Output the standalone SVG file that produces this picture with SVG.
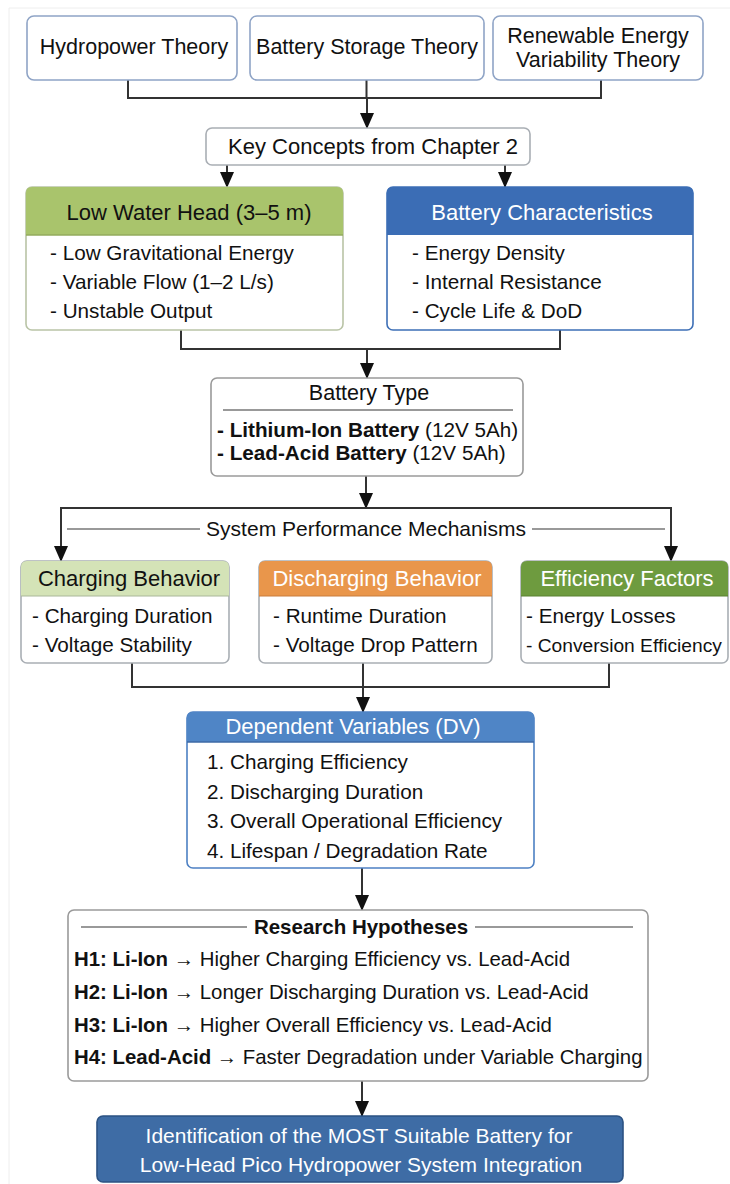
<svg xmlns="http://www.w3.org/2000/svg" width="730" height="1184" viewBox="0 0 730 1184">
<defs>
<marker id="arr" viewBox="0 0 16 14" markerWidth="16" markerHeight="14" refX="15" refY="7" orient="auto" markerUnits="userSpaceOnUse">
<path d="M0,0 L16,7 L0,14 Z" fill="#111"/>
</marker>
<style>
text{font-family:"Liberation Sans",Arial,sans-serif;fill:#111;}
.t{font-size:21px;}
.tt{font-size:21.5px;}
.h{font-size:22px;}
.b{font-size:20.7px;}
.hy{font-size:20.4px;}
.c{text-anchor:middle;}
.w{fill:#fff;}
.bold{font-weight:bold;}
.box{fill:#fff;stroke-width:1.6;}
.plain{stroke:#a9aeb4;}
.blueish{stroke:#8fa4c6;}
.conn{fill:none;stroke:#333;stroke-width:2;}
.sep{stroke:#999;stroke-width:2;}
</style>
</defs>
<rect x="0" y="0" width="730" height="1184" fill="#fff"/>
<path d="M9,1184 V8 H730" fill="none" stroke="#eeeeee" stroke-width="1"/>

<g id="connectors">
<path class="conn" d="M128,80 V98 H601 V80 M366.5,80 V98"/>
<path class="conn" d="M367,98 V128" marker-end="url(#arr)"/>
<path class="conn" d="M227,165 V187" marker-end="url(#arr)"/>
<path class="conn" d="M505,165 V187" marker-end="url(#arr)"/>
<path class="conn" d="M181,330 V349 H560 V330"/>
<path class="conn" d="M367,349 V378" marker-end="url(#arr)"/>
<path class="conn" d="M366,476 V508" marker-end="url(#arr)"/>
<path class="conn" d="M61,561 V508 H671 V561"/>
<path class="conn" d="M61,530 V561" marker-end="url(#arr)"/>
<path class="conn" d="M671,530 V561" marker-end="url(#arr)"/>
<path class="conn" d="M132,663 V687 H609 V663 M363,663 V687"/>
<path class="conn" d="M363,687 V712" marker-end="url(#arr)"/>
<path class="conn" d="M362,868 V910" marker-end="url(#arr)"/>
<path class="conn" d="M362,1081 V1116" marker-end="url(#arr)"/>
</g>

<g id="hydropower-theory">
<rect class="box blueish" x="27" y="16" width="210" height="64" rx="7"/>
<text class="tt c" x="134" y="54">Hydropower Theory</text>
</g>
<g id="battery-storage-theory">
<rect class="box blueish" x="250" y="16" width="234" height="64" rx="7"/>
<text class="tt c" x="367" y="54">Battery Storage Theory</text>
</g>
<g id="renewable-variability-theory">
<rect class="box blueish" x="493" y="16" width="210" height="64" rx="7"/>
<text class="tt c" x="598" y="43">Renewable Energy</text>
<text class="tt c" x="598" y="67">Variability Theory</text>
</g>

<g id="key-concepts">
<rect class="box plain" x="206" y="128" width="324" height="37" rx="6"/>
<text class="h c" x="373" y="154">Key Concepts from Chapter 2</text>
</g>

<g id="low-water-head">
<rect class="box" stroke="#b9c4a6" x="26" y="187" width="317" height="143" rx="6"/>
<path d="M26,235 V193 Q26,187 32,187 H337 Q343,187 343,193 V235 Z" fill="#a9c46c"/>
<line x1="26" y1="235" x2="343" y2="235" stroke="#93ab5c" stroke-width="1.5"/>
<text class="h c" x="189" y="220">Low Water Head (3–5 m)</text>
<text class="b" x="50" y="260">- Low Gravitational Energy</text>
<text class="b" x="50" y="289">- Variable Flow (1–2 L/s)</text>
<text class="b" x="50" y="318">- Unstable Output</text>
</g>

<g id="battery-characteristics">
<rect class="box" stroke="#3d6fb6" x="387" y="187" width="306" height="143" rx="6"/>
<path d="M387,235 V193 Q387,187 393,187 H687 Q693,187 693,193 V235 Z" fill="#3b6db5"/>
<text class="h c w" x="542" y="220">Battery Characteristics</text>
<text class="b" x="412" y="260">- Energy Density</text>
<text class="b" x="412" y="289">- Internal Resistance</text>
<text class="b" x="412" y="318">- Cycle Life &amp; DoD</text>
</g>

<g id="battery-type">
<rect class="box" stroke="#9a9a9a" x="211" y="378" width="312" height="98" rx="6"/>
<text class="tt c" x="369" y="400">Battery Type</text>
<line class="sep" x1="223" y1="410" x2="513" y2="410"/>
<text class="b" x="217" y="437"><tspan class="bold">- Lithium-Ion Battery</tspan> (12V 5Ah)</text>
<text class="b" x="217" y="460"><tspan class="bold">- Lead-Acid Battery</tspan> (12V 5Ah)</text>
</g>

<g id="system-performance-mechanisms">
<line class="sep" x1="67" y1="529" x2="200" y2="529"/>
<line class="sep" x1="532" y1="529" x2="665" y2="529"/>
<rect x="201" y="517" width="330" height="24" fill="#fff"/>
<text class="t c" x="366" y="536">System Performance Mechanisms</text>
</g>

<g id="charging-behavior">
<rect class="box plain" x="21" y="561" width="208" height="102" rx="6"/>
<path d="M21,596 V567 Q21,561 27,561 H223 Q229,561 229,567 V596 Z" fill="#d4e3b7"/>
<line x1="21" y1="596" x2="229" y2="596" stroke="#a9b89a" stroke-width="1.2"/>
<text class="h c" x="129" y="586">Charging Behavior</text>
<text class="b" x="32" y="623">- Charging Duration</text>
<text class="b" x="32" y="652">- Voltage Stability</text>
</g>

<g id="discharging-behavior">
<rect class="box plain" x="259" y="561" width="233" height="102" rx="6"/>
<path d="M259,596 V567 Q259,561 265,561 H486 Q492,561 492,567 V596 Z" fill="#e9964b"/>
<line x1="259" y1="596" x2="492" y2="596" stroke="#c97d3c" stroke-width="1.2"/>
<text class="h c w" x="377" y="586">Discharging Behavior</text>
<text class="b" x="273" y="623">- Runtime Duration</text>
<text class="b" x="273" y="652">- Voltage Drop Pattern</text>
</g>

<g id="efficiency-factors">
<rect class="box plain" x="521" y="561" width="207" height="102" rx="6"/>
<path d="M521,596 V567 Q521,561 527,561 H722 Q728,561 728,567 V596 Z" fill="#6e9b3f"/>
<line x1="521" y1="596" x2="728" y2="596" stroke="#5a8232" stroke-width="1.2"/>
<text class="h c w" x="627" y="586">Efficiency Factors</text>
<text class="b" x="526" y="623">- Energy Losses</text>
<text x="526" y="652" style="font-size:19.2px">- Conversion Efficiency</text>
</g>

<g id="dependent-variables">
<rect class="box" stroke="#4d80c3" x="187" y="712" width="347" height="156" rx="6"/>
<path d="M187,742 V718 Q187,712 193,712 H528 Q534,712 534,718 V742 Z" fill="#4f85c6"/>
<line x1="187" y1="742" x2="534" y2="742" stroke="#3c6aa6" stroke-width="1.5"/>
<text class="h c w" x="353" y="734">Dependent Variables (DV)</text>
<text class="b" x="207" y="769">1. Charging Efficiency</text>
<text class="b" x="207" y="799">2. Discharging Duration</text>
<text class="b" x="207" y="828">3. Overall Operational Efficiency</text>
<text class="b" x="207" y="858">4. Lifespan / Degradation Rate</text>
</g>

<g id="research-hypotheses">
<rect class="box" stroke="#9a9a9a" x="68" y="910" width="580" height="171" rx="6"/>
<line class="sep" x1="81" y1="927" x2="247" y2="927"/>
<line class="sep" x1="475" y1="927" x2="633" y2="927"/>
<text class="c bold" x="361" y="934" style="font-size:20.5px">Research Hypotheses</text>
<text class="hy" x="74" y="966"><tspan class="bold">H1: Li-Ion</tspan> → Higher Charging Efficiency vs. Lead-Acid</text>
<text class="hy" x="74" y="999"><tspan class="bold">H2: Li-Ion</tspan> → Longer Discharging Duration vs. Lead-Acid</text>
<text class="hy" x="74" y="1032"><tspan class="bold">H3: Li-Ion</tspan> → Higher Overall Efficiency vs. Lead-Acid</text>
<text class="hy" x="74" y="1064"><tspan class="bold">H4: Lead-Acid</tspan> → Faster Degradation under Variable Charging</text>
</g>

<g id="conclusion">
<rect x="97" y="1116" width="526" height="66" rx="6" fill="#3e6ca5" stroke="#2b5283" stroke-width="1.6"/>
<text class="t c w" x="359" y="1143">Identification of the MOST Suitable Battery for</text>
<text class="t c w" x="361" y="1172">Low-Head Pico Hydropower System Integration</text>
</g>
</svg>
